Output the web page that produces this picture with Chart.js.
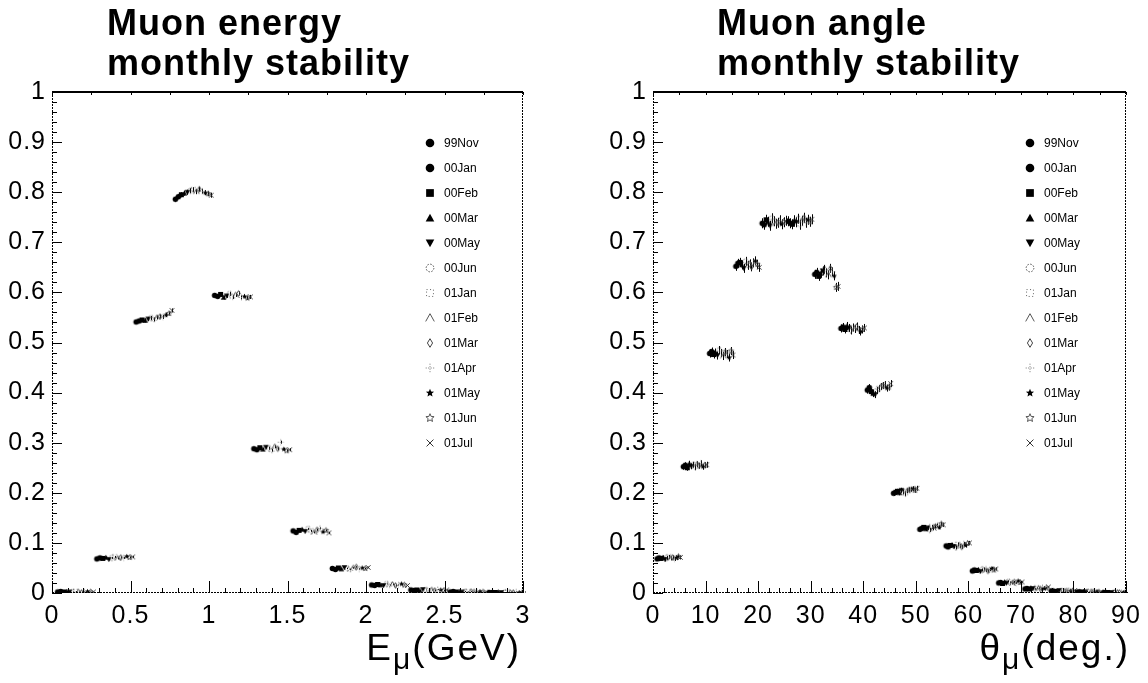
<!DOCTYPE html>
<html>
<head>
<meta charset="utf-8">
<script src="https://cdn.jsdelivr.net/npm/chart.js@4.4.1/dist/chart.umd.min.js"></script>
<style>
  body { margin: 0; background: #fff; }
  .wrap { display: flex; width: 1148px; height: 683px; }
  canvas { display: block; background: #fff; }
</style>
</head>
<body>
<div class="wrap">
  <canvas id="energyChart" width="574" height="683"></canvas>
  <canvas id="angleChart" width="574" height="683"></canvas>
</div>
<script>
const FONT = "'Liberation Sans', Arial, Helvetica, sans-serif";

const months = ["99Nov", "00Jan", "00Feb", "00Mar", "00May", "00Jun", "01Jan",
  "01Feb", "01Mar", "01Apr", "01May", "01Jun", "01Jul"];
const markerShapes = ["fullCircle", "fullCircle", "fullSquare", "fullTriUp", "fullTriDown",
  "openCircle", "openSquare", "openTriUp", "openDiamond", "openCross", "fullStar", "openStar", "cross"];

// energy bins (GeV) and fraction per month
const energyBins = [0.15, 0.40, 0.65, 0.90, 1.15, 1.40, 1.65, 1.90, 2.15, 2.40, 2.65, 2.90];
const energyErr = [0.001, 0.002, 0.004, 0.005, 0.004, 0.003, 0.002, 0.0015, 0.001, 0.001, 0.001, 0.001];
const energyNov99 = [0.002, 0.068, 0.541, 0.786, 0.594, 0.288, 0.124, 0.049, 0.016, 0.006, 0.002, 0.001];
const energyJan00 = [0.003, 0.070, 0.543, 0.791, 0.592, 0.286, 0.121, 0.047, 0.015, 0.005, 0.003, 0.001];
const energyFeb00 = [0.002, 0.069, 0.545, 0.795, 0.596, 0.290, 0.125, 0.050, 0.017, 0.006, 0.002, 0.001];
const energyMar00 = [0.003, 0.071, 0.544, 0.798, 0.590, 0.287, 0.127, 0.048, 0.016, 0.005, 0.003, 0.002];
const energyMay00 = [0.002, 0.067, 0.547, 0.800, 0.593, 0.291, 0.123, 0.051, 0.015, 0.007, 0.002, 0.001];
const energyJun00 = [0.002, 0.070, 0.549, 0.803, 0.597, 0.289, 0.128, 0.049, 0.018, 0.006, 0.003, 0.001];
const energyJan01 = [0.003, 0.072, 0.546, 0.805, 0.591, 0.285, 0.124, 0.047, 0.016, 0.005, 0.002, 0.002];
const energyFeb01 = [0.002, 0.069, 0.550, 0.801, 0.595, 0.292, 0.121, 0.050, 0.017, 0.006, 0.003, 0.001];
const energyMar01 = [0.001, 0.071, 0.552, 0.806, 0.598, 0.288, 0.126, 0.052, 0.015, 0.005, 0.002, 0.001];
const energyApr01 = [0.002, 0.070, 0.551, 0.802, 0.590, 0.301, 0.129, 0.048, 0.016, 0.007, 0.002, 0.002];
const energyMay01 = [0.003, 0.073, 0.555, 0.799, 0.592, 0.287, 0.122, 0.050, 0.018, 0.006, 0.003, 0.001];
const energyJun01 = [0.002, 0.071, 0.558, 0.797, 0.589, 0.284, 0.125, 0.049, 0.016, 0.005, 0.002, 0.001];
const energyJul01 = [0.002, 0.072, 0.564, 0.794, 0.591, 0.286, 0.120, 0.051, 0.015, 0.006, 0.002, 0.002];
const energyByMonth = [energyNov99, energyJan00, energyFeb00, energyMar00, energyMay00, energyJun00,
  energyJan01, energyFeb01, energyMar01, energyApr01, energyMay01, energyJun01, energyJul01];

// angle bins (deg) and fraction per month
const angleBins = [3, 8, 13, 18, 23, 28, 33, 38, 43, 48, 53, 58, 63, 68, 73, 78, 83, 88];
const angleErr = [0.004, 0.006, 0.008, 0.009, 0.010, 0.010, 0.009, 0.008, 0.007, 0.005, 0.004, 0.004, 0.003, 0.002, 0.0015, 0.001, 0.001, 0.001];
const angleNov99 = [0.068, 0.252, 0.478, 0.652, 0.738, 0.742, 0.636, 0.528, 0.405, 0.199, 0.127, 0.094, 0.044, 0.020, 0.008, 0.004, 0.002, 0.001];
const angleJan00 = [0.070, 0.255, 0.482, 0.658, 0.735, 0.738, 0.640, 0.531, 0.410, 0.201, 0.129, 0.092, 0.046, 0.021, 0.009, 0.004, 0.002, 0.001];
const angleFeb00 = [0.069, 0.250, 0.476, 0.660, 0.745, 0.736, 0.632, 0.526, 0.402, 0.203, 0.131, 0.095, 0.045, 0.019, 0.008, 0.003, 0.002, 0.001];
const angleMar00 = [0.071, 0.258, 0.480, 0.655, 0.741, 0.744, 0.638, 0.533, 0.398, 0.200, 0.128, 0.096, 0.047, 0.022, 0.010, 0.004, 0.002, 0.001];
const angleMay00 = [0.067, 0.253, 0.474, 0.648, 0.733, 0.740, 0.643, 0.529, 0.396, 0.205, 0.130, 0.093, 0.043, 0.020, 0.009, 0.005, 0.002, 0.001];
const angleJun00 = [0.070, 0.256, 0.485, 0.662, 0.748, 0.747, 0.646, 0.524, 0.404, 0.202, 0.126, 0.091, 0.046, 0.023, 0.008, 0.004, 0.003, 0.001];
const angleJan01 = [0.072, 0.251, 0.479, 0.654, 0.742, 0.735, 0.639, 0.530, 0.408, 0.198, 0.132, 0.097, 0.048, 0.021, 0.010, 0.004, 0.002, 0.001];
const angleFeb01 = [0.069, 0.257, 0.473, 0.657, 0.737, 0.743, 0.635, 0.527, 0.412, 0.204, 0.129, 0.094, 0.045, 0.019, 0.009, 0.003, 0.002, 0.001];
const angleMar01 = [0.071, 0.254, 0.481, 0.651, 0.739, 0.749, 0.648, 0.532, 0.414, 0.206, 0.133, 0.092, 0.044, 0.022, 0.008, 0.004, 0.002, 0.001];
const angleApr01 = [0.068, 0.259, 0.477, 0.659, 0.744, 0.739, 0.641, 0.525, 0.416, 0.207, 0.135, 0.098, 0.047, 0.020, 0.011, 0.005, 0.002, 0.001];
const angleMay01 = [0.070, 0.252, 0.470, 0.663, 0.736, 0.745, 0.633, 0.522, 0.409, 0.208, 0.131, 0.095, 0.049, 0.024, 0.009, 0.004, 0.003, 0.001];
const angleJun01 = [0.073, 0.255, 0.483, 0.656, 0.740, 0.741, 0.610, 0.526, 0.411, 0.205, 0.138, 0.099, 0.046, 0.021, 0.010, 0.004, 0.002, 0.001];
const angleJul01 = [0.071, 0.256, 0.475, 0.650, 0.743, 0.746, 0.612, 0.529, 0.418, 0.209, 0.136, 0.100, 0.048, 0.022, 0.012, 0.005, 0.002, 0.001];
const angleByMonth = [angleNov99, angleJan00, angleFeb00, angleMar00, angleMay00, angleJun00,
  angleJan01, angleFeb01, angleMar01, angleApr01, angleMay01, angleJun01, angleJul01];

// ROOT-like marker drawing
function drawMarker(ctx, shape, x, y, r) {
  ctx.save();
  ctx.fillStyle = "#000";
  ctx.strokeStyle = "#000";
  ctx.lineWidth = 1;
  ctx.beginPath();
  const star = () => {
    for (let k = 0; k < 10; k++) {
      const rr = k % 2 === 0 ? r : r * 0.45;
      const a = -Math.PI / 2 + k * Math.PI / 5;
      const px = x + rr * Math.cos(a), py = y + rr * Math.sin(a);
      k === 0 ? ctx.moveTo(px, py) : ctx.lineTo(px, py);
    }
    ctx.closePath();
  };
  switch (shape) {
    case "fullCircle":
      ctx.arc(x, y, r, 0, Math.PI * 2); ctx.fill(); break;
    case "fullSquare":
      ctx.rect(x - r * 0.9, y - r * 0.9, r * 1.8, r * 1.8); ctx.fill(); break;
    case "fullTriUp":
      ctx.moveTo(x, y - r); ctx.lineTo(x + r, y + r * 0.8); ctx.lineTo(x - r, y + r * 0.8);
      ctx.closePath(); ctx.fill(); break;
    case "fullTriDown":
      ctx.moveTo(x, y + r); ctx.lineTo(x + r, y - r * 0.8); ctx.lineTo(x - r, y - r * 0.8);
      ctx.closePath(); ctx.fill(); break;
    case "openCircle":
      ctx.strokeStyle = "#555"; ctx.setLineDash([1.5, 1.5]);
      ctx.arc(x, y, r * 0.9, 0, Math.PI * 2); ctx.stroke(); break;
    case "openSquare":
      ctx.strokeStyle = "#666"; ctx.setLineDash([1, 2.5]);
      ctx.rect(x - r * 0.8, y - r * 0.8, r * 1.6, r * 1.6); ctx.stroke(); break;
    case "openTriUp":
      ctx.strokeStyle = "#555";
      ctx.moveTo(x - r, y + r * 0.8); ctx.lineTo(x, y - r); ctx.lineTo(x + r, y + r * 0.8);
      ctx.stroke(); break;
    case "openDiamond":
      ctx.strokeStyle = "#444";
      ctx.moveTo(x, y - r); ctx.lineTo(x + r * 0.6, y); ctx.lineTo(x, y + r); ctx.lineTo(x - r * 0.6, y);
      ctx.closePath(); ctx.stroke(); break;
    case "openCross":
      ctx.strokeStyle = "#777"; ctx.setLineDash([1, 1.5]);
      ctx.moveTo(x, y - r); ctx.lineTo(x, y + r); ctx.moveTo(x - r, y); ctx.lineTo(x + r, y);
      ctx.stroke(); break;
    case "fullStar":
      star(); ctx.fill(); break;
    case "openStar":
      ctx.strokeStyle = "#555"; star(); ctx.stroke(); break;
    case "cross":
      ctx.strokeStyle = "#333";
      ctx.moveTo(x - r * 0.8, y - r * 0.8); ctx.lineTo(x + r * 0.8, y + r * 0.8);
      ctx.moveTo(x + r * 0.8, y - r * 0.8); ctx.lineTo(x - r * 0.8, y + r * 0.8);
      ctx.stroke(); break;
  }
  ctx.restore();
}

function markerCanvas(shape, r) {
  const size = Math.ceil(r * 2 + 3);
  const c = document.createElement("canvas");
  c.width = size;
  c.height = size;
  drawMarker(c.getContext("2d"), shape, size / 2, size / 2, r);
  return c;
}

const smallMarkers = markerShapes.map((s) => markerCanvas(s, 2.8));

function buildDatasets(bins, byMonth, errors, spread) {
  return byMonth.map((values, i) => ({
    label: months[i],
    data: values.map((v, j) => ({ x: bins[j] + (i - 6) * spread, y: v })),
    yErr: errors,
    pointStyle: smallMarkers[i],
    pointRadius: 3,
    showLine: false,
  }));
}

const errorBars = {
  id: "errorBars",
  beforeDatasetsDraw(chart) {
    const { ctx, scales: { y } } = chart;
    ctx.save();
    ctx.strokeStyle = "#000";
    ctx.lineWidth = 1;
    chart.data.datasets.forEach((ds, i) => {
      const meta = chart.getDatasetMeta(i);
      meta.data.forEach((pt, j) => {
        const v = ds.data[j].y, e = ds.yErr[j];
        const x = Math.round(pt.x) + 0.5;
        ctx.beginPath();
        ctx.moveTo(x, y.getPixelForValue(Math.max(0, v - e)));
        ctx.lineTo(x, y.getPixelForValue(v + e));
        ctx.stroke();
      });
    });
    ctx.restore();
  },
};

const rootFrame = {
  id: "rootFrame",
  beforeDraw(chart) {
    // slightly wider tick labels, like the original Helvetica output
    chart.ctx.letterSpacing = "1px";
  },
  afterDraw(chart, args, opts) {
    const { ctx, chartArea: a, scales: { x, y } } = chart;
    ctx.save();
    ctx.strokeStyle = "#000";

    // frame
    ctx.lineWidth = 2;
    ctx.beginPath();
    ctx.moveTo(a.left, a.top); ctx.lineTo(a.right, a.top);
    ctx.stroke();
    ctx.lineWidth = 1;
    ctx.setLineDash([2, 1]);
    ctx.beginPath();
    ctx.moveTo(a.left + 0.5, a.top); ctx.lineTo(a.left + 0.5, a.bottom);
    ctx.moveTo(a.right - 0.5, a.top); ctx.lineTo(a.right - 0.5, a.bottom);
    ctx.moveTo(a.left, a.bottom - 0.5); ctx.lineTo(a.right, a.bottom - 0.5);
    ctx.stroke();
    ctx.setLineDash([]);

    // inward ticks
    const ticks = (scale, min, max, major, minor, draw) => {
      const n = Math.round((max - min) / minor);
      for (let k = 0; k <= n; k++) {
        const v = min + k * minor;
        const isMajor = Math.abs(v / major - Math.round(v / major)) < 1e-6;
        draw(scale.getPixelForValue(v), isMajor);
      }
    };
    ctx.beginPath();
    ticks(y, y.min, y.max, opts.yMajor, opts.yMinor, (p, m) => {
      const py = Math.round(p) + 0.5;
      ctx.moveTo(a.left, py); ctx.lineTo(a.left + (m ? 10 : 5), py);
    });
    ticks(x, x.min, x.max, opts.xMajor, opts.xMinor, (p, m) => {
      const px = Math.round(p) + 0.5;
      ctx.moveTo(px, a.bottom); ctx.lineTo(px, a.bottom - (m ? 12 : 5));
    });
    ticks(x, x.min, x.max, opts.topStep, opts.topStep, (p) => {
      const px = Math.round(p) + 0.5;
      ctx.moveTo(px, a.top); ctx.lineTo(px, a.top + 3);
    });
    ctx.stroke();

    // title
    ctx.fillStyle = "#000";
    ctx.textAlign = "left";
    ctx.textBaseline = "alphabetic";
    ctx.letterSpacing = "1px";
    ctx.font = "bold 36px " + FONT;
    opts.title.forEach((line, k) => {
      ctx.fillText(line, a.left + opts.titleDx, 35 + k * 40);
    });

    // axis title with subscript
    ctx.letterSpacing = "2px";
    const [main, sub, rest] = opts.xTitle;
    ctx.font = "37px " + FONT;
    const wMain = ctx.measureText(main).width;
    const wRest = ctx.measureText(rest).width;
    ctx.font = "30px " + FONT;
    const wSub = ctx.measureText(sub).width;
    let tx = a.right + opts.xTitleDx - (wMain + wSub + wRest);
    const base = 660;
    ctx.font = "37px " + FONT;
    ctx.fillText(main, tx, base);
    tx += wMain;
    ctx.font = "30px " + FONT;
    ctx.fillText(sub, tx, base + 9);
    tx += wSub;
    ctx.font = "37px " + FONT;
    ctx.fillText(rest, tx, base);

    // legend
    ctx.letterSpacing = "0px";
    ctx.font = "12px 'Liberation Sans Narrow', " + FONT;
    ctx.textBaseline = "middle";
    const lx = a.right - opts.legendDx;
    months.forEach((m, i) => {
      const ly = a.top + 51 + i * 25;
      drawMarker(ctx, markerShapes[i], lx, ly, 4.3);
      ctx.fillStyle = "#000";
      ctx.fillText(m, lx + 14, ly + 1);
    });
    ctx.restore();
    ctx.letterSpacing = "0px";
  },
};

function makeChart(id, cfg) {
  const tickFont = { family: FONT, size: 25 };
  const fmt = (v) => String(Math.round(v * 100) / 100);
  return new Chart(document.getElementById(id), {
    type: "scatter",
    data: { datasets: cfg.datasets },
    options: {
      responsive: false,
      animation: false,
      layout: { padding: { top: 92, right: cfg.padRight, bottom: 50, left: 0 } },
      scales: {
        x: {
          type: "linear",
          min: cfg.xMin,
          max: cfg.xMax,
          afterFit: (s) => { s.height = 40; },
          grid: { display: false, drawTicks: false },
          border: { display: false },
          ticks: { stepSize: cfg.xMajor, font: tickFont, color: "#000", padding: 8, maxRotation: 0, autoSkip: false, callback: fmt },
        },
        y: {
          type: "linear",
          min: 0,
          max: 1,
          afterFit: (s) => { s.width = cfg.yWidth; },
          grid: { display: false, drawTicks: false },
          border: { display: false },
          ticks: { stepSize: 0.1, font: tickFont, color: "#000", padding: 6, autoSkip: false, callback: fmt },
        },
      },
      plugins: {
        legend: { display: false },
        tooltip: { enabled: false },
        rootFrame: {
          title: cfg.title,
          titleDx: cfg.titleDx,
          xTitle: cfg.xTitle,
          xTitleDx: cfg.xTitleDx,
          legendDx: cfg.legendDx,
          xMajor: cfg.xMajor,
          xMinor: cfg.xMinor,
          yMajor: 0.1,
          yMinor: 0.02,
          topStep: cfg.topStep,
        },
      },
    },
    plugins: [errorBars, rootFrame],
  });
}

makeChart("energyChart", {
  datasets: buildDatasets(energyBins, energyByMonth, energyErr, 0.019),
  xMin: 0, xMax: 3, xMajor: 0.5, xMinor: 0.1, topStep: 0.25,
  padRight: 51, yWidth: 52,
  title: ["Muon energy", "monthly stability"], titleDx: 55,
  xTitle: ["E", "\u03bc", "(GeV)"], xTitleDx: -2,
  legendDx: 93,
});

makeChart("angleChart", {
  datasets: buildDatasets(angleBins, angleByMonth, angleErr, 0.37),
  xMin: 0, xMax: 90, xMajor: 10, xMinor: 2, topStep: 5,
  padRight: 22, yWidth: 79,
  title: ["Muon angle", "monthly stability"], titleDx: 64,
  xTitle: ["\u03b8", "\u03bc", "(deg.)"], xTitleDx: 4,
  legendDx: 96,
});
</script>
</body>
</html>
